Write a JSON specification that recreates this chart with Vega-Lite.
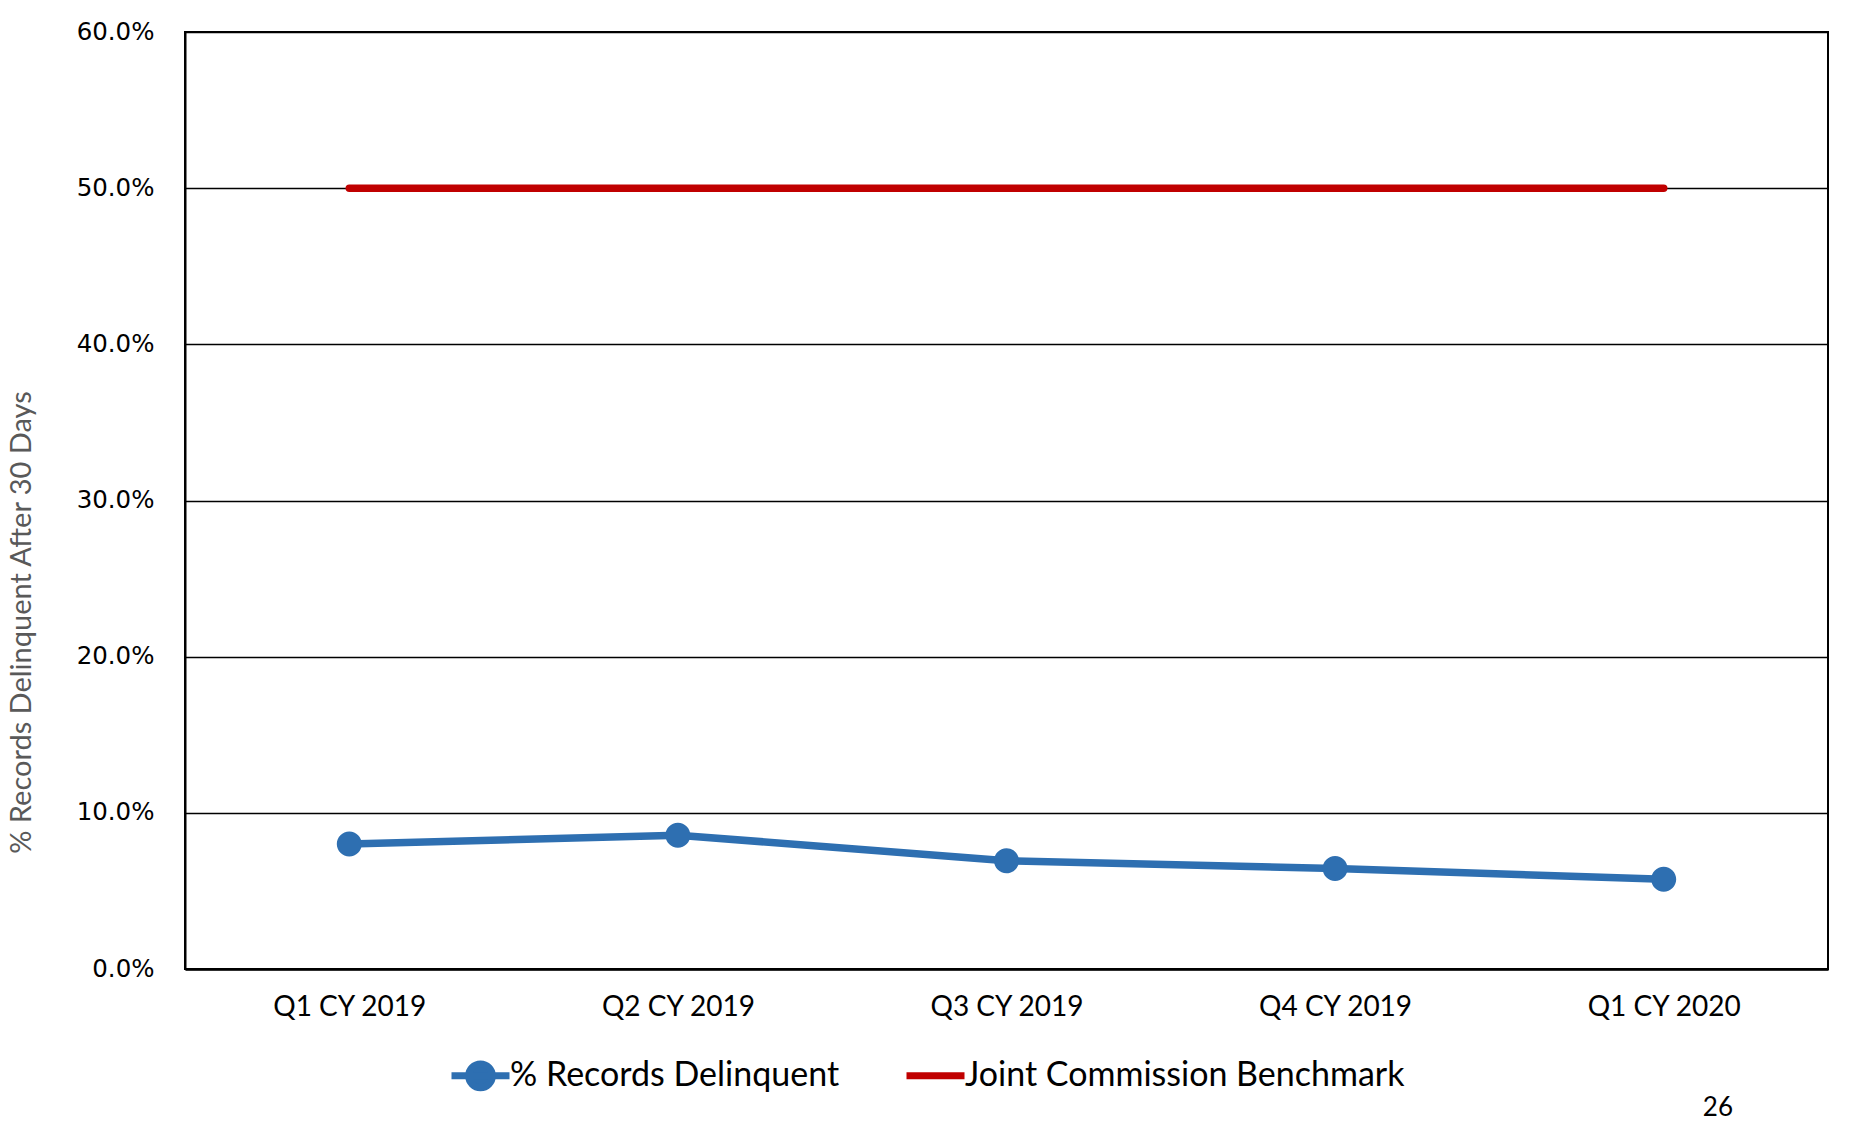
{
  "$schema": "https://vega.github.io/schema/vega-lite/v6.json",
  "autosize": "none",
  "width": 1643,
  "height": 937,
  "padding": {"left": 185, "top": 32, "right": 31, "bottom": 152},
  "background": "white",
  "title": {"text": "26", "orient": "bottom", "anchor": "end", "frame": "group", "font": "Lato", "fontSize": 26, "fontWeight": "normal", "color": "#000000", "dx": -95, "offset": -7},
  "data": {
    "values": [
      {"quarter": "Q1 CY 2019", "series": "% Records Delinquent", "value": 0.080},
      {"quarter": "Q2 CY 2019", "series": "% Records Delinquent", "value": 0.0857},
      {"quarter": "Q3 CY 2019", "series": "% Records Delinquent", "value": 0.0693},
      {"quarter": "Q4 CY 2019", "series": "% Records Delinquent", "value": 0.0644},
      {"quarter": "Q1 CY 2020", "series": "% Records Delinquent", "value": 0.0574},
      {"quarter": "Q1 CY 2019", "series": "Joint Commission Benchmark", "value": 0.5},
      {"quarter": "Q2 CY 2019", "series": "Joint Commission Benchmark", "value": 0.5},
      {"quarter": "Q3 CY 2019", "series": "Joint Commission Benchmark", "value": 0.5},
      {"quarter": "Q4 CY 2019", "series": "Joint Commission Benchmark", "value": 0.5},
      {"quarter": "Q1 CY 2020", "series": "Joint Commission Benchmark", "value": 0.5}
    ]
  },
  "encoding": {
    "x": {
      "field": "quarter", "type": "ordinal",
      "sort": ["Q1 CY 2019", "Q2 CY 2019", "Q3 CY 2019", "Q4 CY 2019", "Q1 CY 2020"],
      "scale": {"type": "point", "padding": 0.5},
      "axis": {"title": null, "labelAngle": 0, "ticks": false, "grid": false, "domainColor": "#000000", "domainWidth": 2.5, "labelFont": "Lato", "labelFontSize": 28, "labelColor": "#000000", "labelPadding": 24, "labelBaseline": "top"}
    },
    "y": {
      "field": "value", "type": "quantitative",
      "scale": {"domain": [0, 0.6], "nice": false},
      "axis": {
        "title": "% Records Delinquent After 30 Days",
        "format": ".1%", "values": [0, 0.1, 0.2, 0.3, 0.4, 0.5, 0.6],
        "ticks": false, "grid": true, "gridColor": "#000000", "gridWidth": 1.5,
        "domainColor": "#000000", "domainWidth": 2,
        "labelFont": "DejaVu Sans", "labelFontSize": 24.5, "labelColor": "#000000", "labelPadding": 31,
        "titleFont": "Lato", "titleFontSize": 29, "titleFontWeight": "normal", "titleColor": "#595959",
        "titleX": -164, "titleY": 590, "titleAngle": -90, "titleAlign": "center", "titleBaseline": "middle"
      }
    }
  },
  "layer": [
    {
      "mark": {"type": "line", "strokeWidth": 7.5, "strokeCap": "round", "strokeJoin": "round"},
      "encoding": {
        "color": {"field": "series", "type": "nominal",
          "scale": {"domain": ["% Records Delinquent", "Joint Commission Benchmark"], "range": ["#2E6FB1", "#C00000"]}}
      }
    },
    {
      "transform": [{"filter": "datum.series === '% Records Delinquent'"}],
      "mark": {"type": "point", "filled": true, "size": 3717, "opacity": 1, "strokeWidth": 0},
      "encoding": {
        "color": {"field": "series", "type": "nominal",
          "scale": {"domain": ["% Records Delinquent", "Joint Commission Benchmark"], "range": ["#2E6FB1", "#C00000"]},
          "legend": {
            "title": null, "orient": "none", "direction": "horizontal", "legendX": 263, "legendY": 1011,
            "padding": 0, "columnPadding": 52, "labelOffset": -3, "labelLimit": 800,
            "labelFont": "Lato", "labelFontSize": 34, "labelColor": "#000000", "symbolSize": 3364,
            "symbolStrokeWidth": 7,
            "encode": {"symbols": {"update": {
              "fill": {"scale": "color", "field": "value"},
              "stroke": {"scale": "color", "field": "value"},
              "strokeWidth": {"value": 7},
              "size": {"value": 3364},
              "opacity": {"value": 1},
              "fillOpacity": {"value": 1},
              "strokeOpacity": {"value": 1},
              "strokeCap": {"value": "round"}
            }}}
          }},
        "shape": {"field": "series", "type": "nominal",
          "scale": {"domain": ["% Records Delinquent", "Joint Commission Benchmark"], "range": ["M-1,0H1M0.41,0A0.41,0.41,0,1,1,-0.41,0A0.41,0.41,0,1,1,0.41,0Z", "M0,-0.41M0,0.41M-1,0H1"]},
          "legend": {"title": null, "orient": "none", "direction": "horizontal", "legendX": 263, "legendY": 1011,
            "padding": 0, "columnPadding": 52, "labelOffset": -3, "labelLimit": 800,
            "labelFont": "Lato", "labelFontSize": 34, "labelColor": "#000000", "symbolSize": 3364, "symbolStrokeWidth": 7}}
      }
    }
  ],
  "config": {
    "view": {"stroke": "#000000", "strokeWidth": 2},
    "legend": {"symbolStrokeWidth": 7}
  }
}
